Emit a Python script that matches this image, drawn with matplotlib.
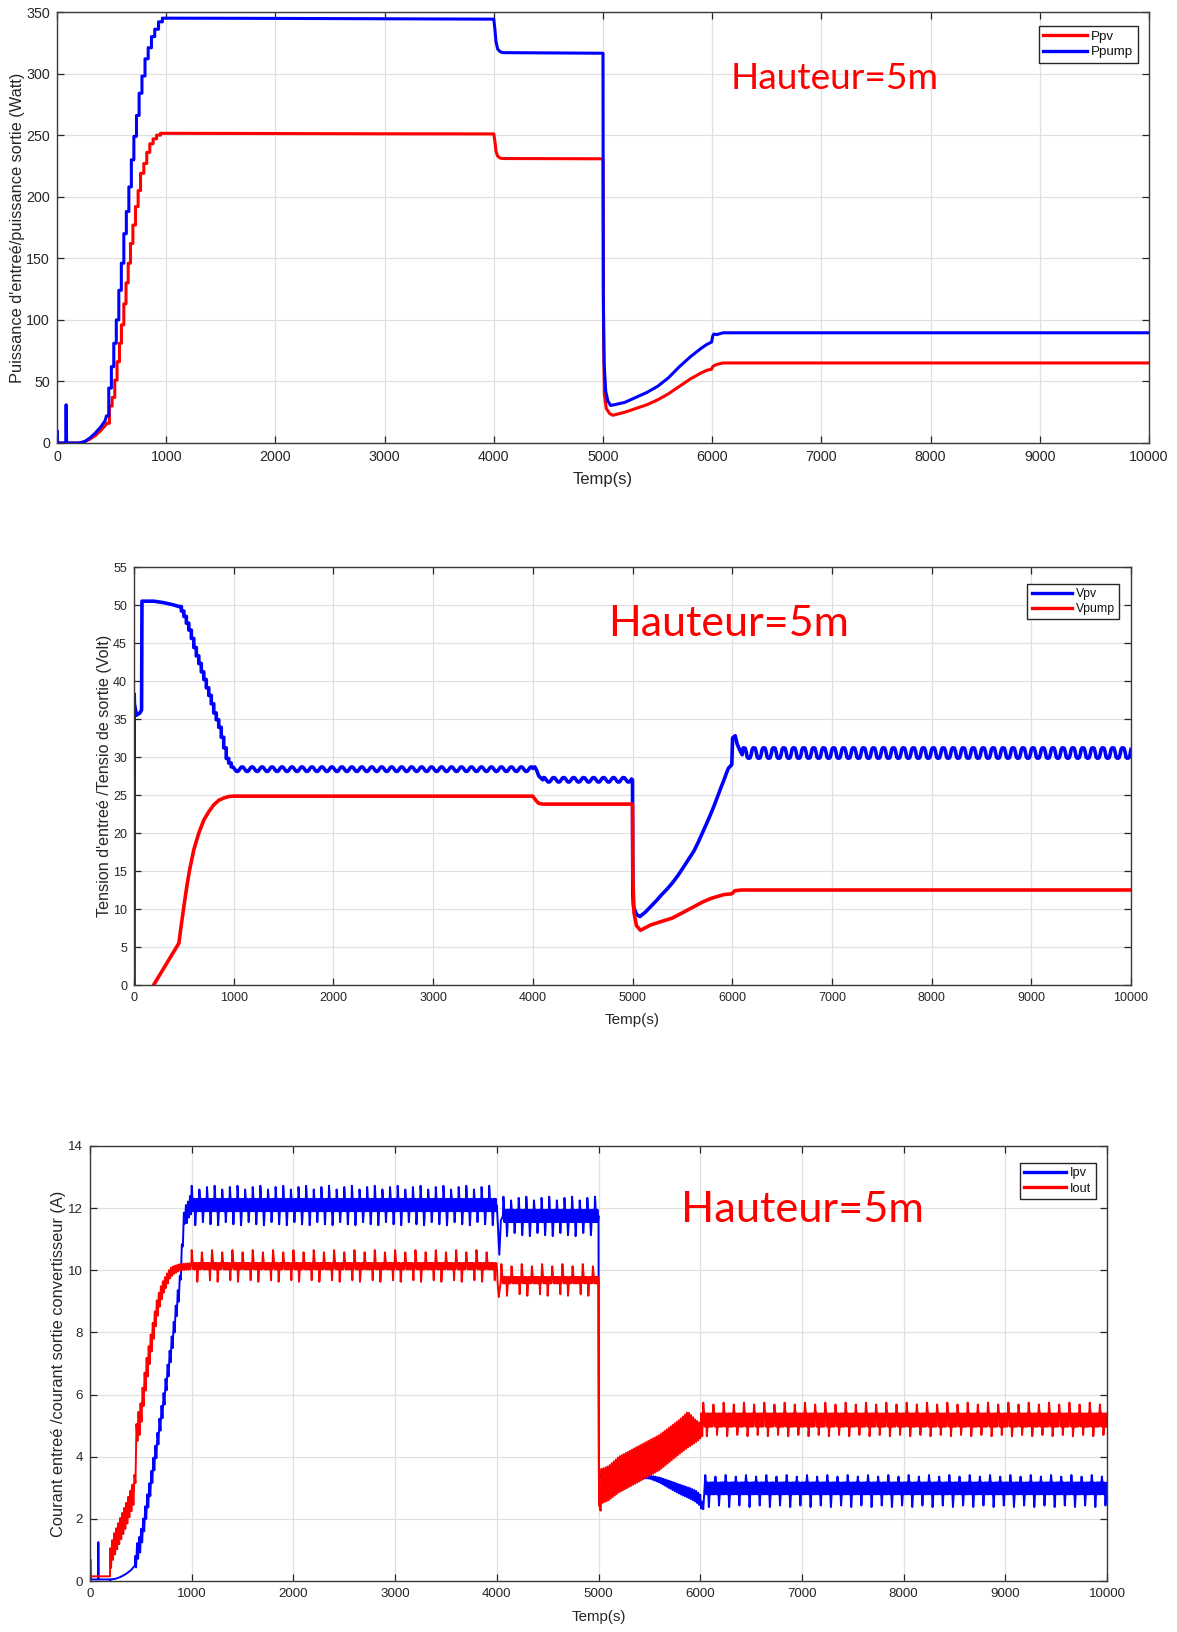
import numpy as np
import matplotlib
matplotlib.use("Agg")
import matplotlib.pyplot as plt

plt.rcParams['font.family'] = ['Liberation Sans', 'DejaVu Sans']

RED = '#ff0000'
BLUE = '#0000ff'
INK = '#262626'
GRID = '#e0e0e0'

T_END = 10000

# ---------------------------------------------------------------
# Panel 1 : input / output power (W)
# ---------------------------------------------------------------
ppump_pre_t = [0, 2, 6, 10, 80, 82, 85, 88, 200, 250, 300, 350, 400, 440, 453]
ppump_pre_v = [0, 10, 0, 0, 0, 31, 31, 0, 0, 1, 4, 8, 13, 18, 22]
ppump_step_t = [453, 474, 498, 520, 543, 566, 589, 612, 635, 658, 681, 704,
                728, 752, 778, 806, 835, 865, 895, 930, 965]
ppump_step_v = [22, 44.6, 62, 81, 100, 124, 146, 170, 188, 208, 230, 249,
                266, 284, 298, 312, 321, 330, 336, 342, 345]
ppump_post_t = [980, 2000, 3000, 4000, 4010, 4020, 4035, 4055, 4080, 5000,
                5003, 5010, 5025, 5045, 5070, 5100, 5200, 5300, 5400, 5500,
                5600, 5700, 5800, 5900, 5950, 5995, 6005, 6015, 6040, 6100,
                T_END]
ppump_post_v = [345, 344.8, 344.5, 344.2, 336, 326, 320, 318, 317, 316.5,
                120, 65, 42, 34, 30.5, 31, 33, 37, 41, 46,
                53, 62, 70, 77, 80, 82, 87, 88.5, 88, 89.5,
                89.5]

ppv_pre_t = [0, 200, 250, 300, 350, 400, 440, 458]
ppv_pre_v = [0, 0, 1, 3, 6, 10, 14, 16]
ppv_step_t = [458, 480, 505, 529, 550, 572, 590, 612, 632, 652, 673, 695,
              719, 743, 765, 795, 822, 850, 880, 912, 948]
ppv_step_v = [16, 30, 37, 51, 66, 81, 96, 113, 130, 146, 162, 177,
              192, 205, 219, 227, 236, 243, 247, 250, 251.5]
ppv_post_t = [960, 2000, 3000, 4000, 4010, 4020, 4035, 4055, 4080, 5000,
              5005, 5012, 5030, 5060, 5090, 5200, 5300, 5400, 5500, 5600,
              5700, 5800, 5900, 5950, 5995, 6005, 6020, 6050, 6100, T_END]
ppv_post_v = [251.5, 251.3, 251.1, 251, 245, 237, 233, 231.5, 231, 230.8,
              90, 40, 28, 24, 22.5, 25, 28, 31, 35, 40,
              46, 52, 57, 59, 60, 62, 63, 64, 65, 65]

# ---------------------------------------------------------------
# Panel 2 : input / output voltage (V)
# ---------------------------------------------------------------
vpv_pre_t = [0, 2, 4, 25, 60, 76, 80, 84, 200, 300, 400, 450]
vpv_pre_v = [0, 38.3, 37, 35.5, 35.8, 36.2, 50.5, 50.5, 50.5, 50.3, 50.0, 49.8]
vpv_step_t = [450, 475, 500, 525, 550, 575, 600, 625, 650, 675, 700, 725,
              750, 775, 800, 825, 850, 875, 900, 925, 950, 975]
vpv_step_v = [49.8, 49.2, 48.5, 47.6, 46.7, 45.6, 44.4, 43.3, 42.3, 41.2,
              40.2, 39.1, 38.1, 37.0, 35.8, 34.9, 33.9, 32.6, 31.2, 29.8,
              29.2, 28.7]
vpv_level_a = 28.4          # 1000 - 4000 s
vpv_level_b = 27.0          # 4100 - 5000 s
vpv_level_c = 30.5          # 6100 - 10000 s
vpv_step4000_t = [4000, 4020, 4040, 4060, 4100]
vpv_step4000_v = [28.5, 28.7, 28.2, 27.5, 27.0]
vpv_drop_t = [5000, 5003, 5010, 5040, 5074, 5130, 5182, 5240, 5290, 5345,
              5398, 5450, 5506, 5560, 5615, 5660, 5701, 5745, 5788, 5822,
              5853, 5885, 5918, 5940, 5961, 5996, 6004, 6030, 6050, 6080,
              6100]
vpv_drop_v = [27.0, 12, 10.3, 9.3, 9.0, 9.6, 10.3, 11.1, 11.85, 12.6,
              13.4, 14.3, 15.4, 16.5, 17.6, 18.8, 20.0, 21.3, 22.6, 23.7,
              24.8, 25.9, 27.0, 27.8, 28.5, 29.0, 32.5, 32.8, 31.7, 30.8,
              30.3]
# one ripple period (100 s, 10 s spacing), offsets in V
vpv_ripple_a = [0.3, 0.26, 0.1, -0.1, -0.26, -0.3, -0.26, -0.1, 0.1, 0.26]
vpv_ripple_c = [0.7, 0.7, 0.65, 0.2, -0.5, -0.65, -0.65, -0.6, -0.2, 0.5]

vpump_t = [197, 450, 470, 500, 530, 557, 600, 650, 700, 750, 800, 850, 900,
           950, 1000, 4000, 4030, 4060, 4100, 5000, 5004, 5015, 5040, 5080,
           5182, 5300, 5398, 5500, 5615, 5700, 5788, 5918, 5996, 6026, 6090,
           T_END]
vpump_v = [0, 5.5, 7.5, 10.3, 13, 15.1, 17.8, 20, 21.7, 22.8, 23.7, 24.3,
           24.6, 24.8, 24.85, 24.85, 24.3, 23.9, 23.8, 23.8, 14, 9.5, 7.8,
           7.2, 7.9, 8.4, 8.8, 9.5, 10.3, 10.9, 11.4, 11.9, 12.0, 12.4, 12.5,
           12.5]

# ---------------------------------------------------------------
# Panel 3 : input current / converter output current (A)
# ---------------------------------------------------------------
ipv_pre_t = [0, 3, 8, 80, 82, 85, 195, 198, 202, 250, 300, 350, 400, 443]
ipv_pre_v = [0, 0.7, 0.05, 0.05, 1.25, 0.05, 0.05, -0.3, 0.05, 0.07, 0.13,
             0.22, 0.34, 0.5]
ipv_ramp_t = [443, 459, 492, 525, 557, 590, 623, 656, 689, 721, 754, 787,
              820, 852, 885, 911, 928, 951, 984, 1000]
ipv_ramp_v = [0.5, 0.88, 1.2, 1.74, 2.38, 2.97, 3.67, 4.31, 5.06, 5.7, 6.46,
              7.2, 7.96, 8.8, 9.57, 10.97, 11.8, 11.8, 12.1, 12.1]
ipv_ramp_amp = 0.3
ipv_level_a = 12.1          # 1000 - 4000 s
ipv_level_b = 11.75         # 4060 - 5000 s
ipv_level_c = 2.98          # 6050 - 10000 s
ipv_step4000_t = [4000, 4010, 4025, 4040, 4060]
ipv_step4000_v = [12.1, 11.5, 10.5, 11.6, 11.75]
ipv_drop_t = [5000, 5004, 5020, 5500, 5600, 5700, 5800, 5900, 5960, 6000,
              6025, 6050]
ipv_drop_v = [11.75, 3.5, 3.35, 3.35, 3.25, 3.1, 2.95, 2.82, 2.72, 2.6,
              2.35, 2.9]
ipv_drop_amp = [0.0, 0.0, 0.03, 0.05, 0.08, 0.12, 0.15, 0.17, 0.18, 0.18,
                0.15, 0.15]
# three ripple periods (75 s each), 5 s spacing, offsets in A
ipv_ripple_a = [0.62, 0.4, -0.2, 0.2, -0.2, 0.2, -0.2, -0.65, -0.4, 0.2,
                -0.2, 0.2, -0.2, 0.2, -0.2,
                0.5, 0.3, -0.2, 0.2, -0.2, 0.2, -0.2, -0.55, -0.3, 0.2,
                -0.2, 0.2, -0.2, 0.2, -0.2,
                0.58, 0.35, -0.2, 0.2, -0.2, 0.2, -0.2, -0.62, -0.35, 0.2,
                -0.2, 0.2, -0.2, 0.2, -0.2]
# two ripple periods (100 s each), 5 s spacing
ipv_ripple_c = [0.43, 0.25, -0.19, 0.19, -0.19, 0.19, -0.19, -0.6, -0.35,
                0.19, -0.19, 0.19, -0.19, 0.19, -0.19, 0.19, -0.19, 0.19,
                -0.19, 0.19,
                0.38, 0.2, -0.19, 0.19, -0.19, 0.19, -0.19, -0.55, -0.3,
                0.19, -0.19, 0.19, -0.19, 0.19, -0.19, 0.19, -0.19, 0.19,
                -0.19, 0.19]

iout_pre_t = [0, 197]
iout_pre_v = [0.15, 0.15]
iout_ramp_t = [197, 230, 262, 295, 328, 361, 393, 426, 443, 459, 492, 525,
               557, 590, 623, 656, 689, 721, 754, 787, 820, 885, 950, 1000]
iout_ramp_v = [0.67, 1.1, 1.36, 1.63, 1.9, 2.17, 2.49, 2.81, 3.13, 4.85,
               5.17, 6.0, 6.78, 7.42, 8.07, 8.7, 9.14, 9.46, 9.68, 9.9, 10.0,
               10.1, 10.12, 10.13]
iout_ramp_amp = [0.38, 0.38, 0.38, 0.38, 0.38, 0.38, 0.38, 0.38, 0.4, 0.42,
                 0.42, 0.42, 0.4, 0.38, 0.35, 0.32, 0.28, 0.22, 0.2, 0.16,
                 0.13, 0.1, 0.1, 0.1]
iout_level_a = 10.13        # 1000 - 4000 s
iout_level_b = 9.68         # 4040 - 5000 s
iout_level_c = 5.18         # 6030 - 10000 s
iout_step4000_t = [4000, 4010, 4020, 4040]
iout_step4000_v = [10.13, 9.5, 9.14, 9.68]
iout_drop_t = [5000, 5005, 5020]
iout_drop_v = [9.68, 2.5, 2.27]
iout_band_t = [5030, 5100, 5200, 5400, 5600, 5800, 5880, 5950, 5990, 6030]
iout_band_lo = [2.5, 2.6, 2.85, 3.2, 3.57, 4.1, 4.3, 4.45, 4.55, 4.7]
iout_band_hi = [3.6, 3.7, 4.0, 4.35, 4.7, 5.2, 5.45, 5.2, 5.1, 5.7]
# two ripple periods (100 s each), 5 s spacing
iout_ripple_a = [0.52, 0.3, 0.12, -0.1, 0.1, -0.1, 0.1, -0.1, 0.1, -0.1,
                 0.1, -0.5, -0.25, 0.1, -0.1, 0.1, -0.1, 0.1, -0.1, 0.1,
                 0.45, 0.25, 0.1, -0.1, 0.1, -0.1, 0.1, -0.1, 0.1, -0.1,
                 0.1, -0.1, 0.1, -0.1, 0.1, -0.1, -0.45, 0.1, -0.1, 0.1]
iout_ripple_c = [0.56, 0.35, 0.2, -0.21, 0.21, -0.21, 0.21, -0.52, -0.3,
                 0.21, -0.21, 0.21, -0.21, 0.21, -0.21, 0.21, -0.21, 0.21,
                 -0.21, 0.21,
                 0.5, 0.3, 0.2, -0.21, 0.21, -0.21, 0.21, -0.48, -0.25,
                 0.21, -0.21, 0.21, -0.21, 0.21, -0.21, 0.21, -0.21, 0.21,
                 -0.21, 0.21]


# ---------------------------------------------------------------
# helpers that turn the read-off pieces into drawable paths
# ---------------------------------------------------------------
def stairs(t, v):
    """Sample-and-hold staircase through the listed plateaus."""
    tt, vv = [], []
    for i in range(len(t) - 1):
        tt += [t[i], t[i + 1]]
        vv += [v[i], v[i]]
    tt.append(t[-1])
    vv.append(v[-1])
    return np.array(tt, float), np.array(vv, float)


def steady(t0, t1, level, cycle, step):
    """Constant level carrying a repeating ripple pattern."""
    n = int(round((t1 - t0) / step))
    t = t0 + step * np.arange(n)
    return t, level + np.resize(np.asarray(cycle, float), n)


def band(knot_t, lo, hi, step):
    """Fast switching ripple bouncing between a lower and upper envelope."""
    t = np.arange(knot_t[0], knot_t[-1], step, dtype=float)
    low = np.interp(t, knot_t, lo)
    high = np.interp(t, knot_t, hi)
    v = np.where(np.arange(len(t)) % 2 == 0, high, low)
    return t, v


def around(knot_t, mid, amp, step):
    mid = np.asarray(mid, float)
    amp = np.asarray(amp, float) * np.ones_like(mid)
    return band(knot_t, mid - amp, mid + amp, step)


def join(*parts):
    t = np.concatenate([np.asarray(p[0], float) for p in parts])
    v = np.concatenate([np.asarray(p[1], float) for p in parts])
    return t, v


ppump = join((ppump_pre_t, ppump_pre_v), stairs(ppump_step_t, ppump_step_v),
             (ppump_post_t, ppump_post_v))
ppv = join((ppv_pre_t, ppv_pre_v), stairs(ppv_step_t, ppv_step_v),
           (ppv_post_t, ppv_post_v))

vpv = join((vpv_pre_t, vpv_pre_v), stairs(vpv_step_t, vpv_step_v),
           steady(985, 4000, vpv_level_a, vpv_ripple_a, 10),
           (vpv_step4000_t, vpv_step4000_v),
           steady(4110, 5000, vpv_level_b, vpv_ripple_a, 10),
           (vpv_drop_t, vpv_drop_v),
           steady(6110, T_END + 10, vpv_level_c, vpv_ripple_c, 10))
vpump = (np.array(vpump_t, float), np.array(vpump_v, float))

ipv = join((ipv_pre_t, ipv_pre_v),
           around(ipv_ramp_t, ipv_ramp_v, ipv_ramp_amp, 10),
           steady(1000, 4000, ipv_level_a, ipv_ripple_a, 5),
           (ipv_step4000_t, ipv_step4000_v),
           steady(4065, 5000, ipv_level_b, ipv_ripple_a, 5),
           (ipv_drop_t[:3], ipv_drop_v[:3]),
           around(ipv_drop_t[2:], ipv_drop_v[2:], ipv_drop_amp[2:], 10),
           steady(6050, T_END + 5, ipv_level_c, ipv_ripple_c, 5))
iout = join((iout_pre_t, iout_pre_v),
            around(iout_ramp_t, iout_ramp_v, iout_ramp_amp, 10),
            steady(1000, 4000, iout_level_a, iout_ripple_a, 5),
            (iout_step4000_t, iout_step4000_v),
            steady(4045, 5000, iout_level_b, iout_ripple_a, 5),
            (iout_drop_t, iout_drop_v),
            band(iout_band_t, iout_band_lo, iout_band_hi, 10),
            steady(6030, T_END + 5, iout_level_c, iout_ripple_c, 5))


# ---------------------------------------------------------------
# figure
# ---------------------------------------------------------------
W, H = 1177, 1632
fig = plt.figure(figsize=(W / 100, H / 100), dpi=100)


def frame(px_left, px_top, px_right, px_bottom):
    return fig.add_axes([px_left / W, 1 - px_bottom / H,
                         (px_right - px_left) / W, (px_bottom - px_top) / H])


def style(ax, ymax, ystep, tick_fs):
    ax.set_xlim(0, T_END)
    ax.set_ylim(0, ymax)
    ax.set_xticks(np.arange(0, T_END + 1, 1000))
    ax.set_yticks(np.arange(0, ymax + 0.01, ystep))
    ax.grid(True, color=GRID, linewidth=0.9)
    ax.set_axisbelow(True)
    ax.tick_params(direction='in', length=5, width=0.9, top=True, right=True,
                   colors=INK, labelsize=tick_fs, pad=5)
    for s in ax.spines.values():
        s.set_color('#3a3a3a')
        s.set_linewidth(1.0)


def legend(ax, x, y, fs):
    lg = ax.legend(loc='upper right', bbox_to_anchor=(x, y), fontsize=fs,
                   frameon=True, fancybox=False, framealpha=1,
                   edgecolor=INK, handlelength=3.3, handletextpad=0.3,
                   borderpad=0.35, labelspacing=0.25, borderaxespad=0)
    lg.get_frame().set_linewidth(1.0)
    for line in lg.get_lines():
        line.set_linewidth(2.4)
    for tx in lg.get_texts():
        tx.set_color('#111111')


def tag(ax, x, y, fs):
    ax.text(x, y, 'Hauteur=5m', color=RED, fontsize=fs,
            family=['Lato', 'DejaVu Sans'], ha='left', va='center')


# --- panel 1
ax1 = frame(57, 12, 1149, 443)
style(ax1, 350, 50, 10.3)
ax1.plot(*ppv, color=RED, lw=2.2, label='Ppv')
ax1.plot(*ppump, color=BLUE, lw=2.2, label='Ppump')
ax1.set_xlabel('Temp(s)', fontsize=12, color=INK)
ax1.set_ylabel("Puissance d'entreé/puissance sortie (Watt)", fontsize=11.8,
               color=INK)
ax1.xaxis.set_label_coords(0.5, -0.068)
ax1.yaxis.set_label_coords(-0.029, 0.5)
legend(ax1, 0.99, 0.968, 9.6)
tag(ax1, 6172, 296, 26.7)

# --- panel 2
ax2 = frame(134, 567, 1131, 985)
style(ax2, 55, 5, 9.0)
ax2.plot(*vpv, color=BLUE, lw=2.6, label='Vpv')
ax2.plot(*vpump, color=RED, lw=2.6, label='Vpump')
ax2.set_xlabel('Temp(s)', fontsize=11, color=INK)
ax2.set_ylabel("Tension d'entreé /Tensio de sortie (Volt)", fontsize=11.6,
               color=INK)
ax2.xaxis.set_label_coords(0.5, -0.068)
ax2.yaxis.set_label_coords(-0.022, 0.5)
legend(ax2, 0.988, 0.96, 8.8)
tag(ax2, 4754, 47.5, 31)

# --- panel 3
ax3 = frame(90, 1146, 1107, 1581)
style(ax3, 14, 2, 9.6)
ax3.plot(*ipv, color=BLUE, lw=1.4, label='Ipv')
ax3.plot(*iout, color=RED, lw=1.4, label='Iout')
# the output current's fall at 5000 s lies over the input current
sel = (iout[0] >= 4990) & (iout[0] <= 5030)
ax3.plot(iout[0][sel], iout[1][sel], color=RED, lw=1.4)
ax3.set_xlabel('Temp(s)', fontsize=10.8, color=INK)
ax3.set_ylabel('Courant entreé /courant sortie convertisseur (A)',
               fontsize=11.8, color=INK)
ax3.xaxis.set_label_coords(0.5, -0.066)
ax3.yaxis.set_label_coords(-0.024, 0.5)
legend(ax3, 0.989, 0.961, 9.2)
tag(ax3, 5811, 11.94, 31.2)

fig.savefig('out.png', dpi=100)
